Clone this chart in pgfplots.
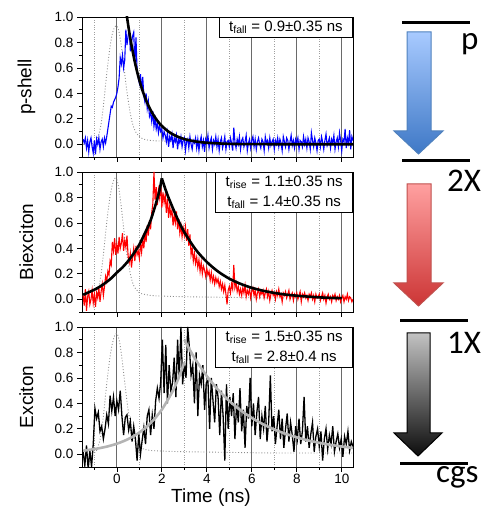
\documentclass[border=0pt]{standalone}
\usepackage{pgfplots}
\pgfplotsset{compat=1.18}
\usepackage{pgfplotstable}
\usepackage{fontspec}
\setmainfont{Liberation Sans}
\newfontfamily\calibri{Carlito}

\definecolor{fitgray}{HTML}{B4B4B4}
\definecolor{irf}{HTML}{8C8C8C}
\definecolor{gridc}{HTML}{6A6A6A}
\definecolor{bluetop}{HTML}{A8CAFF}
\definecolor{bluebot}{HTML}{3E78C6}
\definecolor{blueedge}{HTML}{4F81BD}
\definecolor{redtop}{HTML}{FFA0A0}
\definecolor{redbot}{HTML}{CC3535}
\definecolor{rededge}{HTML}{C0504D}
\definecolor{graytop}{HTML}{C2C2C2}
\definecolor{graybot}{HTML}{0D0D0D}

% p-shell trace, 0.05 ns steps from -1.5 ns
\pgfplotstableread[row sep=\\]{y\\
0.04\\0.01\\0.05\\-0.03\\0.03\\-0.06\\0.02\\0.05\\-0.02\\-0.07\\
0.03\\-0.08\\0.04\\0.00\\0.05\\-0.04\\0.02\\0.04\\-0.02\\0.05\\
0.01\\0.06\\0.12\\0.18\\0.24\\0.30\\0.29\\0.33\\0.35\\0.37\\
0.40\\0.45\\0.52\\0.68\\0.63\\0.70\\0.60\\0.66\\0.90\\0.78\\
0.85\\0.92\\0.73\\0.80\\0.85\\0.88\\0.62\\0.84\\0.58\\0.52\\
0.48\\0.55\\0.42\\0.53\\0.38\\0.33\\0.40\\0.28\\0.34\\0.22\\
0.25\\0.18\\0.26\\0.14\\0.20\\0.12\\0.17\\0.09\\0.15\\0.10\\
0.12\\0.05\\0.10\\0.07\\0.02\\0.09\\-0.02\\0.06\\0.03\\0.08\\
-0.03\\0.05\\0.02\\0.07\\-0.04\\0.04\\0.01\\0.06\\-0.02\\0.03\\
0.05\\-0.05\\0.02\\0.04\\-0.03\\0.06\\0.00\\-0.04\\0.03\\0.01\\
0.05\\-0.03\\0.04\\-0.05\\0.02\\0.06\\-0.02\\0.03\\-0.06\\0.04\\
0.01\\0.07\\-0.03\\0.02\\0.05\\-0.04\\0.03\\0.00\\0.06\\-0.02\\
0.04\\-0.05\\0.02\\0.05\\-0.03\\0.01\\0.06\\-0.04\\0.02\\0.03\\
-0.02\\0.05\\0.01\\-0.05\\0.13\\0.02\\-0.03\\0.04\\0.00\\0.06\\
-0.04\\0.03\\0.05\\-0.02\\0.02\\0.07\\-0.05\\0.01\\0.04\\-0.03\\
0.03\\0.06\\-0.02\\0.04\\-0.04\\0.02\\0.05\\0.00\\-0.03\\0.04\\
0.02\\-0.05\\0.06\\0.01\\0.03\\-0.03\\0.05\\-0.01\\0.02\\0.04\\
-0.04\\0.03\\0.00\\0.05\\-0.02\\0.04\\0.01\\-0.05\\0.06\\0.02\\
-0.02\\0.05\\0.03\\-0.04\\0.02\\0.07\\-0.01\\0.03\\-0.03\\0.04\\
0.01\\0.05\\-0.04\\0.03\\0.02\\-0.02\\0.06\\0.00\\0.04\\-0.03\\
0.05\\0.02\\-0.04\\0.09\\0.03\\-0.02\\0.05\\0.01\\-0.05\\0.03\\
0.04\\-0.02\\0.06\\0.02\\-0.04\\0.03\\0.08\\-0.01\\0.02\\0.05\\
-0.03\\0.04\\0.01\\0.07\\-0.04\\0.02\\0.05\\-0.02\\0.09\\0.03\\
-0.05\\0.04\\0.02\\0.12\\-0.03\\0.05\\0.01\\0.11\\-0.04\\0.06\\0.03\\
}\pshell

% biexciton trace, 0.05 ns steps from -1.5 ns
\pgfplotstableread[row sep=\\]{y\\
0.03\\-0.05\\0.08\\-0.09\\0.02\\0.06\\-0.04\\0.00\\0.07\\-0.03\\
0.04\\-0.06\\0.05\\0.01\\0.09\\-0.02\\0.06\\0.12\\0.03\\0.10\\
0.18\\0.14\\0.22\\0.19\\0.30\\0.27\\0.45\\0.38\\0.48\\0.35\\
0.43\\0.36\\0.49\\0.40\\0.44\\0.52\\0.38\\0.46\\0.41\\0.50\\
0.34\\0.29\\0.36\\0.25\\0.33\\0.40\\0.30\\0.42\\0.35\\0.38\\
0.32\\0.44\\0.37\\0.47\\0.40\\0.52\\0.45\\0.58\\0.50\\0.62\\
0.55\\0.68\\0.75\\1.00\\0.78\\0.88\\0.74\\0.86\\0.80\\0.91\\
0.72\\0.84\\0.76\\0.82\\0.68\\0.79\\0.64\\0.73\\0.66\\0.70\\
0.58\\0.66\\0.60\\0.69\\0.55\\0.63\\0.52\\0.58\\0.49\\0.56\\
0.50\\0.57\\0.46\\0.55\\0.42\\0.51\\0.35\\0.40\\0.30\\0.36\\
0.28\\0.33\\0.25\\0.31\\0.22\\0.29\\0.20\\0.26\\0.23\\0.18\\
0.24\\0.19\\0.22\\0.15\\0.21\\0.14\\0.18\\0.12\\0.17\\0.13\\
0.16\\0.10\\0.14\\0.08\\0.12\\0.06\\0.11\\0.04\\-0.04\\0.07\\
0.10\\0.05\\0.12\\0.08\\0.27\\0.09\\0.13\\0.06\\0.10\\0.04\\
0.08\\0.03\\0.09\\0.05\\0.11\\0.02\\0.07\\0.04\\0.08\\0.01\\
0.06\\0.09\\0.03\\0.07\\0.00\\0.05\\0.08\\0.02\\0.06\\0.04\\
0.07\\0.01\\0.05\\0.08\\0.02\\0.06\\-0.01\\0.04\\0.07\\0.03\\
0.05\\0.00\\0.06\\0.03\\0.08\\0.02\\0.04\\-0.02\\0.05\\0.03\\
0.06\\0.01\\0.04\\0.07\\0.00\\0.03\\0.05\\-0.01\\0.04\\0.02\\
0.05\\0.00\\0.03\\0.06\\-0.02\\0.04\\0.02\\0.05\\0.01\\0.03\\
-0.01\\0.04\\0.02\\0.05\\0.00\\0.03\\-0.02\\0.04\\0.01\\0.02\\
0.04\\-0.01\\0.02\\0.05\\0.00\\0.03\\-0.03\\0.02\\0.04\\0.00\\
0.02\\-0.02\\0.03\\0.01\\0.04\\-0.01\\0.02\\0.00\\0.03\\-0.02\\
0.01\\0.03\\-0.02\\0.02\\0.00\\0.04\\-0.01\\0.02\\0.01\\-0.02\\0.00\\
}\biex

% exciton trace, 0.075 ns steps from -1.5 ns
\pgfplotstableread[row sep=\\]{y\\
0.02\\-0.09\\0.07\\-0.12\\0.03\\-0.10\\0.08\\0.36\\
0.28\\0.33\\0.18\\0.22\\0.12\\0.20\\0.31\\0.24\\
0.46\\0.34\\0.45\\0.30\\0.42\\0.35\\0.50\\0.30\\
0.15\\0.29\\0.31\\0.19\\0.26\\0.10\\0.22\\0.12\\
-0.05\\0.16\\0.00\\0.11\\0.21\\0.08\\0.30\\0.35\\
0.15\\0.31\\0.20\\0.42\\0.52\\0.44\\0.57\\0.90\\
0.48\\0.86\\0.40\\0.70\\0.50\\0.56\\0.76\\0.45\\
0.90\\0.60\\1.00\\0.55\\0.72\\0.60\\1.00\\0.84\\
0.62\\0.70\\0.40\\0.80\\0.30\\0.62\\0.55\\0.70\\
0.35\\0.56\\0.58\\0.20\\0.60\\0.42\\0.25\\0.55\\
0.45\\0.15\\0.50\\0.30\\-0.05\\0.55\\0.20\\0.45\\
0.30\\0.48\\0.12\\0.40\\0.25\\0.52\\0.18\\0.35\\
0.05\\0.38\\0.28\\0.60\\0.22\\0.40\\0.15\\0.33\\
0.45\\0.12\\0.30\\0.20\\0.38\\0.10\\0.25\\0.62\\
0.18\\0.30\\0.08\\0.22\\0.35\\0.12\\0.28\\0.05\\
0.20\\0.32\\0.10\\0.25\\0.15\\0.02\\0.22\\0.12\\
0.28\\0.08\\0.18\\0.45\\0.10\\0.22\\0.05\\0.16\\
0.25\\0.02\\0.14\\0.20\\0.06\\0.18\\-0.05\\0.12\\
0.20\\0.04\\0.15\\0.08\\0.22\\0.02\\0.10\\0.16\\
0.05\\0.12\\-0.02\\0.14\\0.08\\0.18\\0.03\\0.10\\0.06\\
}\exciton

\pgfplotsset{
  panel/.style={
    scale only axis, width=271pt, height=140pt, anchor=north west,
    xmin=-1.55, xmax=10.5, ymin=-0.1, ymax=1.0,
    xtick={0,2,4,6,8,10}, minor xtick={-1,1,3,5,7,9},
    ytick={0,0.2,0.4,0.6,0.8,1.0}, minor ytick={-0.1,0.1,0.3,0.5,0.7,0.9},
    xtick pos=bottom, ytick pos=left, tick align=outside,
    major tick length=5pt, minor tick length=3pt,
    xmajorgrids, xminorgrids,
    major grid style={gridc, line width=0.8pt},
    minor grid style={gray!75, dotted, line width=0.7pt},
    /pgf/number format/assume math mode=true,
    yticklabel style={/pgf/number format/.cd, fixed, fixed zerofill, precision=1},
    xticklabel style={yshift=-1pt, inner ysep=1pt},
    tick label style={font=\fontsize{13.5}{15}\selectfont},
    label style={font=\fontsize{19}{22}\selectfont},
    ylabel style={at={(axis description cs:-0.205,0.5)}, anchor=center},
    axis line style={line width=0.8pt},
    tick style={black, line width=0.7pt},
  },
  irfline/.style={irf, dotted, line width=0.9pt, smooth},
}
\tikzset{
  tbox/.style={draw=black, line width=0.7pt, fill=white, inner xsep=10pt,
    inner ysep=3.5pt, font=\fontsize{15}{20}\selectfont, align=center,
    anchor=north east},
  lvl/.style={anchor=base west, inner sep=0pt, font=\calibri\fontsize{33}{36}\selectfont},
}

\begin{document}
\begin{tikzpicture}
\useasboundingbox (0pt,0pt) rectangle (487pt,508pt);

% p-shell
\begin{axis}[panel, at={(82pt,491pt)}, xticklabels={}, ylabel={p-shell}]
\addplot[irfline] coordinates {(-1.5,0) (-1.2,0) (-1.0,0.01) (-0.9,0.03) (-0.8,0.08) (-0.7,0.16) (-0.6,0.30) (-0.5,0.47) (-0.4,0.63) (-0.3,0.77) (-0.2,0.87) (-0.1,0.92) (0.0,0.93) (0.1,0.88) (0.2,0.77) (0.3,0.63) (0.4,0.48) (0.5,0.35) (0.6,0.24) (0.7,0.16) (0.8,0.11) (0.9,0.08) (1.0,0.06) (1.2,0.04) (1.5,0.03) (2.0,0.025) (3.0,0.02) (5.0,0.015) (7.0,0.01) (10.5,0.01)};
\addplot[blue, line width=1.1pt] table[x expr=\coordindex*0.05-1.5, y=y]{\pshell};
\addplot[black, line width=2.6pt, smooth] coordinates {(0.4,1.06) (0.45,1.0) (0.6,0.829) (0.8,0.646) (1.0,0.503) (1.2,0.392) (1.4,0.305) (1.6,0.238) (1.8,0.185) (2.0,0.144) (2.3,0.099) (2.6,0.068) (3.0,0.041) (3.5,0.022) (4.0,0.012) (5.0,0.003) (6.0,0.001) (8.0,0.0) (10.5,0.0)};
\node[tbox] at (axis description cs:1,1) {t\textsubscript{fall} = 0.9±0.35 ns};
\end{axis}

% biexciton
\begin{axis}[panel, at={(82pt,336pt)}, xticklabels={}, ylabel={Biexciton}]
\addplot[irfline] coordinates {(-1.5,0) (-1.2,0) (-1.0,0.01) (-0.9,0.04) (-0.8,0.10) (-0.7,0.20) (-0.6,0.35) (-0.5,0.52) (-0.4,0.68) (-0.3,0.81) (-0.2,0.90) (-0.1,0.95) (0.0,0.94) (0.1,0.86) (0.2,0.72) (0.3,0.56) (0.4,0.41) (0.5,0.29) (0.6,0.20) (0.7,0.13) (0.8,0.09) (0.9,0.07) (1.0,0.05) (1.2,0.04) (1.5,0.03) (2.0,0.025) (3.0,0.02) (5.0,0.015) (7.0,0.01) (10.5,0.01)};
\addplot[red, line width=1.1pt] table[x expr=\coordindex*0.05-1.5, y=y]{\biex};
\addplot[black, line width=2.6pt, smooth] coordinates {(-1.5,0.035) (-1.25,0.055) (-1.0,0.075) (-0.75,0.10) (-0.5,0.13) (-0.25,0.165) (0.0,0.21) (0.25,0.25) (0.5,0.30) (0.75,0.36) (1.0,0.43) (1.25,0.52) (1.5,0.62) (1.75,0.76) (1.9,0.86) (2.0,0.95)};
\addplot[black, line width=2.6pt, smooth] coordinates {(2.0,0.95) (2.1,0.896) (2.25,0.82) (2.5,0.712) (2.75,0.612) (3.0,0.527) (3.5,0.392) (4.0,0.293) (4.5,0.218) (5.0,0.162) (5.5,0.121) (6.0,0.090) (6.5,0.067) (7.0,0.050) (7.5,0.037) (8.0,0.028) (8.5,0.021) (9.0,0.015) (9.5,0.011) (10.0,0.009)};
\node[tbox] at (axis description cs:1,1) {t\textsubscript{rise} = 1.1±0.35 ns\\t\textsubscript{fall} = 1.4±0.35 ns};
\end{axis}

% exciton
\begin{axis}[panel, at={(82pt,181pt)}, ylabel={Exciton}, xlabel={Time (ns)},
  xlabel style={at={(axis description cs:0.476,-0.218)}, anchor=center, inner sep=0pt}]
\addplot[irfline] coordinates {(-1.5,0) (-1.2,0) (-1.0,0.01) (-0.9,0.03) (-0.8,0.08) (-0.7,0.16) (-0.6,0.30) (-0.5,0.47) (-0.4,0.63) (-0.3,0.77) (-0.2,0.87) (-0.1,0.93) (0.0,0.95) (0.1,0.90) (0.2,0.79) (0.3,0.64) (0.4,0.49) (0.5,0.35) (0.6,0.24) (0.7,0.16) (0.8,0.11) (0.9,0.08) (1.0,0.06) (1.2,0.04) (1.5,0.03) (2.0,0.025) (3.0,0.02) (5.0,0.015) (7.0,0.01) (10.5,0.01)};
\addplot[black, line width=1.3pt] table[x expr=\coordindex*0.075-1.5, y=y]{\exciton};
\addplot[fitgray, line width=2.6pt, smooth] coordinates {(-1.5,0.028) (-1.0,0.041) (-0.5,0.058) (0.0,0.083) (0.5,0.119) (1.0,0.171) (1.5,0.245) (2.0,0.351) (2.5,0.502) (2.75,0.601) (3.0,0.72)};
\addplot[fitgray, line width=2.6pt, smooth] coordinates {(3.0,0.9) (3.25,0.818) (3.5,0.744) (4.0,0.614) (4.5,0.507) (5.0,0.419) (5.5,0.346) (6.0,0.286) (6.5,0.236) (7.0,0.195) (7.5,0.161) (8.0,0.133) (8.5,0.109) (9.0,0.090) (9.5,0.074) (10.0,0.061) (10.5,0.050)};
\node[tbox] at (axis description cs:1,1) {t\textsubscript{rise} = 1.5±0.35 ns\\t\textsubscript{fall} = 2.8±0.4 ns};
\end{axis}

% level diagram
\draw[line width=3pt] (402pt,485pt) -- (470pt,485pt);
\draw[line width=3pt] (402pt,347pt) -- (470pt,347pt);
\draw[line width=3pt] (400pt,187pt) -- (468pt,187pt);
\draw[line width=3pt] (400pt,44pt) -- (468pt,44pt);

\shadedraw[top color=bluetop, bottom color=bluebot, draw=blueedge, line width=1pt]
  (407pt,476pt) -- (431pt,476pt) -- (431pt,377pt) -- (443pt,377pt) -- (418.5pt,354pt)
  -- (394pt,377pt) -- (407pt,377pt) -- cycle;
\shadedraw[top color=redtop, bottom color=redbot, draw=rededge, line width=1pt]
  (407pt,324pt) -- (431pt,324pt) -- (431pt,225pt) -- (443pt,225pt) -- (418.5pt,202pt)
  -- (394pt,225pt) -- (407pt,225pt) -- cycle;
\shadedraw[top color=graytop, bottom color=graybot, draw=black, line width=1pt]
  (407pt,175pt) -- (430pt,175pt) -- (430pt,75pt) -- (442pt,75pt) -- (418pt,52pt)
  -- (394pt,75pt) -- (407pt,75pt) -- cycle;

\node[lvl] at (461pt,458pt) {p};
\node[lvl] at (447pt,316pt) {2X};
\node[lvl] at (447pt,154pt) {1X};
\node[lvl] at (436pt,25pt) {cgs};
\end{tikzpicture}
\end{document}
